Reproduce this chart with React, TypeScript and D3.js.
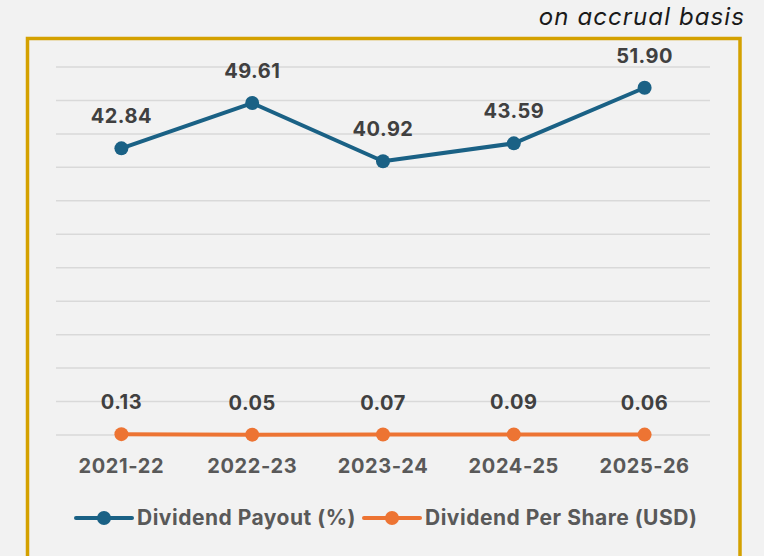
import React from "react";
import * as d3 from "d3";

const categories = ["2021-22", "2022-23", "2023-24", "2024-25", "2025-26"];
const payout = [42.84, 49.61, 40.92, 43.59, 51.9];
const dps = [0.13, 0.05, 0.07, 0.09, 0.06];
const yTicks = [0, 5, 10, 15, 20, 25, 30, 35, 40, 45, 50, 55];
const seriesNames = ["Dividend Payout (%)", "Dividend Per Share (USD)"];

const W = 764, H = 556;
const BLUE = "#1A6185";
const ORANGE = "#ED7433";
const FONT = "Inter, 'Noto Sans', sans-serif";

export default function App() {
  const x = d3.scaleBand<string>().domain(categories).range([56, 710]);
  const y = d3.scaleLinear().domain([0, 55]).range([435, 67]);
  const cx = (c: string) => (x(c) ?? 0) + x.bandwidth() / 2;
  const line = d3.line<number>().x((_, i) => cx(categories[i])).y((d) => y(d));

  return (
    <svg width={W} height={H} style={{ position: "absolute", left: 0, top: 0, background: "#F2F2F2" }} fontFamily={FONT}>
      <rect x={0} y={0} width={W} height={H} fill="#F2F2F2" />
      <text x={745} y={25} textAnchor="end" fontSize={24} fontStyle="italic" letterSpacing={1.1} fill="#1a1a1a">on accrual basis</text>
      <path d={`M27.5,${H + 10} V38.5 H740 V${H + 10}`} fill="none" stroke="#D4A100" strokeWidth={3.5} />
      {yTicks.map((t) => (
        <line key={t} x1={56} x2={710} y1={y(t)} y2={y(t)} stroke="#D9D9D9" strokeWidth={1.5} />
      ))}
      <path d={line(payout) ?? ""} fill="none" stroke={BLUE} strokeWidth={4} strokeLinejoin="round" />
      <path d={line(dps) ?? ""} fill="none" stroke={ORANGE} strokeWidth={4} strokeLinejoin="round" />
      {payout.map((v, i) => (
        <g key={"p" + i}>
          <circle cx={cx(categories[i])} cy={y(v)} r={7} fill={BLUE} />
          <text x={cx(categories[i])} y={y(v) - 25} textAnchor="middle" fontSize={20} fontWeight={700} letterSpacing={0.5} fill="#404040">{v.toFixed(2)}</text>
        </g>
      ))}
      {dps.map((v, i) => (
        <g key={"d" + i}>
          <circle cx={cx(categories[i])} cy={y(v)} r={7} fill={ORANGE} />
          <text x={cx(categories[i])} y={y(v) - 25} textAnchor="middle" fontSize={20} fontWeight={700} letterSpacing={0.5} fill="#404040">{v.toFixed(2)}</text>
        </g>
      ))}
      {categories.map((c) => (
        <text key={c} x={cx(c)} y={473} textAnchor="middle" fontSize={20} fontWeight={700} letterSpacing={0.6} fill="#595959">{c}</text>
      ))}
      <g>
        <line x1={76} x2={132} y1={518} y2={518} stroke={BLUE} strokeWidth={4} strokeLinecap="round" />
        <circle cx={104} cy={518} r={7} fill={BLUE} />
        <text x={137} y={525} fontSize={21} fontWeight={700} letterSpacing={0.5} fill="#595959">{seriesNames[0]}</text>
        <line x1={364} x2={420} y1={518} y2={518} stroke={ORANGE} strokeWidth={4} strokeLinecap="round" />
        <circle cx={392} cy={518} r={7} fill={ORANGE} />
        <text x={425} y={525} fontSize={21} fontWeight={700} letterSpacing={0.5} fill="#595959">{seriesNames[1]}</text>
      </g>
    </svg>
  );
}
